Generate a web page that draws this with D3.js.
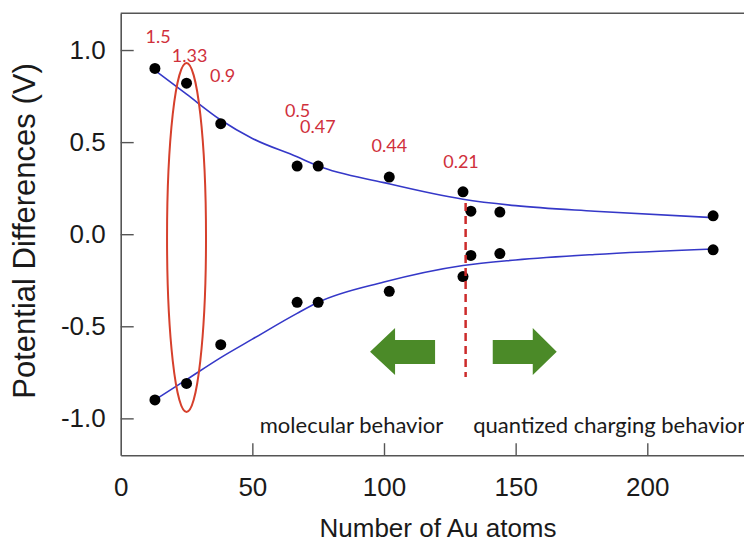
<!DOCTYPE html>
<html>
<head>
<meta charset="utf-8">
<script src="https://cdn.jsdelivr.net/npm/d3@7"></script>
<style>
  html, body { margin: 0; padding: 0; background: #fff; }
  svg { display: block; }
</style>
</head>
<body>
<div id="chart"></div>
<script>
// ---- data ----
const atoms = [13, 25, 38, 67, 75, 102, 130, 133, 144, 225];
const upperV = [0.90, 0.82, 0.60, 0.37, 0.37, 0.31, 0.23, 0.125, 0.12, 0.10];
const lowerV = [-0.90, -0.81, -0.60, -0.37, -0.37, -0.31, -0.23, -0.115, -0.105, -0.085];

// fitted trend lines
const fitX = [13, 25, 38, 50, 67, 75, 100, 130, 150, 180, 225];
const fitUpper = [0.89, 0.76, 0.62, 0.52, 0.42, 0.37, 0.28, 0.19, 0.155, 0.125, 0.09];
const fitLower = [-0.90, -0.79, -0.67, -0.57, -0.43, -0.37, -0.26, -0.17, -0.14, -0.11, -0.08];

// HOMO-LUMO gap labels
const gapLabels = ["1.5", "1.33", "0.9", "0.5", "0.47", "0.44", "0.21"];
const gapX = [9.4, 19.4, 33.9, 62.4, 68.1, 95.3, 122.5];
const gapY = [1.036, 0.936, 0.828, 0.638, 0.548, 0.448, 0.358];

const xTicks = [0, 50, 100, 150, 200];
const yTicks = [-1.0, -0.5, 0.0, 0.5, 1.0];

const xDomain = [0, 240];
const yDomain = [-1.2, 1.2];

// annotations in data units
const dividerX = 131;
const dividerY = [0.17, -0.775];
const leftArrow = { tip: 94.7, neck: 104.2, end: 119.4 };
const rightArrow = { start: 141.3, neck: 156.5, tip: 165.6 };
const arrowY = { mid: -0.638, headTop: -0.509, headBot: -0.764, shaftTop: -0.574, shaftBot: -0.705 };
const ellipse = { cx: 25, cy: -0.018, rx: 7.4, ry: 0.947 };
const regionText = [
  { text: "molecular behavior", x: 122.5, anchor: "end" },
  { text: "quantized charging behavior", x: 133.9, anchor: "start" }
];
const regionTextY = -1.081;

// ---- drawing ----
const W = 744, H = 545;
const svg = d3.select("#chart").append("svg").attr("width", W).attr("height", H);

const x = d3.scaleLinear().domain(xDomain).range([120.7, 120.7 + 240 * 2.633]);
const y = d3.scaleLinear().domain(yDomain).range([455.2, 13.2]);

const frameColor = "#555";

// x axis
const gx = svg.append("g").attr("transform", `translate(0,${y(-1.2)})`)
  .call(d3.axisBottom(x).tickValues(xTicks).tickSizeInner(-12).tickSizeOuter(0).tickPadding(22).tickFormat(d => d));
// y axis
const gy = svg.append("g").attr("transform", `translate(${x(0)},0)`)
  .call(d3.axisLeft(y).tickValues(yTicks).tickSizeInner(-13).tickSizeOuter(0).tickPadding(15).tickFormat(d => d.toFixed(1)));

[gx, gy].forEach(g => {
  g.select(".domain").attr("stroke", frameColor).attr("stroke-width", 1.6);
  g.selectAll(".tick line").attr("stroke", frameColor).attr("stroke-width", 1.4);
  g.selectAll(".tick text").attr("font-family", "'Liberation Sans', Arial, sans-serif")
    .attr("font-size", 26).attr("fill", "#1a1a1a");
});
gx.selectAll(".tick line").filter(d => d === 0).remove();

// top frame line
svg.append("line")
  .attr("x1", x(0)).attr("x2", x(240)).attr("y1", y(1.2)).attr("y2", y(1.2))
  .attr("stroke", frameColor).attr("stroke-width", 1.6);

// axis titles
svg.append("text")
  .attr("transform", `translate(35,${231}) rotate(-90)`)
  .attr("text-anchor", "middle")
  .attr("font-family", "'Liberation Sans', Arial, sans-serif")
  .attr("font-size", 31).attr("fill", "#1a1a1a")
  .text("Potential Differences (V)");

svg.append("text")
  .attr("x", 438).attr("y", 537)
  .attr("text-anchor", "middle")
  .attr("font-family", "'Liberation Sans', Arial, sans-serif")
  .attr("font-size", 26).attr("fill", "#1a1a1a")
  .text("Number of Au atoms");

// fit lines
const line = d3.line().x(d => x(d[0])).y(d => y(d[1])).curve(d3.curveMonotoneX);
[fitUpper, fitLower].forEach(arr => {
  svg.append("path")
    .datum(fitX.map((v, i) => [v, arr[i]]))
    .attr("d", line)
    .attr("fill", "none").attr("stroke", "#3538c8").attr("stroke-width", 1.6);
});

// points
const pts = atoms.map((a, i) => [a, upperV[i]]).concat(atoms.map((a, i) => [a, lowerV[i]]));
svg.append("g").selectAll("circle").data(pts).join("circle")
  .attr("cx", d => x(d[0])).attr("cy", d => y(d[1])).attr("r", 5.5).attr("fill", "#000");

// ellipse
svg.append("ellipse")
  .attr("cx", x(ellipse.cx)).attr("cy", y(ellipse.cy))
  .attr("rx", x(ellipse.rx) - x(0)).attr("ry", y(0) - y(ellipse.ry))
  .attr("fill", "none").attr("stroke", "#d6402c").attr("stroke-width", 2);

// divider
svg.append("line")
  .attr("x1", x(dividerX)).attr("x2", x(dividerX))
  .attr("y1", y(dividerY[0])).attr("y2", y(dividerY[1]))
  .attr("stroke", "#cc2b2b").attr("stroke-width", 2.5).attr("stroke-dasharray", "8,5");

// arrows
const arrowColor = "#4b8a28";
const la = [
  [leftArrow.tip, arrowY.mid], [leftArrow.neck, arrowY.headTop], [leftArrow.neck, arrowY.shaftTop],
  [leftArrow.end, arrowY.shaftTop], [leftArrow.end, arrowY.shaftBot], [leftArrow.neck, arrowY.shaftBot],
  [leftArrow.neck, arrowY.headBot]
];
const ra = [
  [rightArrow.tip, arrowY.mid], [rightArrow.neck, arrowY.headTop], [rightArrow.neck, arrowY.shaftTop],
  [rightArrow.start, arrowY.shaftTop], [rightArrow.start, arrowY.shaftBot], [rightArrow.neck, arrowY.shaftBot],
  [rightArrow.neck, arrowY.headBot]
];
[la, ra].forEach(poly => {
  svg.append("polygon")
    .attr("points", poly.map(p => `${x(p[0])},${y(p[1])}`).join(" "))
    .attr("fill", arrowColor);
});

// gap labels
svg.append("g").selectAll("text").data(gapLabels).join("text")
  .attr("x", (d, i) => x(gapX[i])).attr("y", (d, i) => y(gapY[i]))
  .attr("font-family", "Lato, 'Open Sans', sans-serif")
  .attr("font-size", 18).attr("fill", "#d0303c")
  .text(d => d);

// region text
svg.append("g").selectAll("text").data(regionText).join("text")
  .attr("x", d => x(d.x)).attr("y", y(regionTextY))
  .attr("text-anchor", d => d.anchor)
  .attr("font-family", "Lato, 'Open Sans', sans-serif")
  .attr("font-size", 22).attr("fill", "#1a1a1a")
  .text(d => d.text);
</script>
</body>
</html>
